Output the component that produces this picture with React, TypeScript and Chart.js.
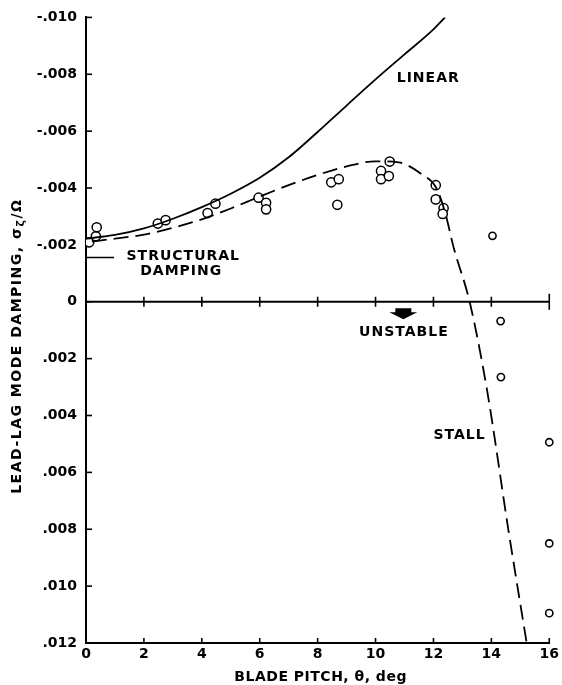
import React, { useEffect, useRef } from "react";
import { Chart, registerables } from "chart.js";

Chart.register(...registerables);

// ---- data ----
const pitchTickValues = [0, 2, 4, 6, 8, 10, 12, 14, 16];
const dampTickValues = [-0.01, -0.008, -0.006, -0.004, -0.002, 0, 0.002, 0.004, 0.006, 0.008, 0.01, 0.012];

const linearPitch = [0, 1, 2, 3, 4, 5, 6, 7, 8, 9, 10, 11, 12, 12.4];
const linearDamp = [-0.00222, -0.00235, -0.00258, -0.00292, -0.00333, -0.0038, -0.00436, -0.00508, -0.00597, -0.0069, -0.00782, -0.0087, -0.00958, -0.01];

const stallCurvePitch = [0.2, 1, 2, 3, 4, 5, 6, 7, 8, 9, 10, 10.8, 11.6, 12.1, 12.4, 12.7, 13.25, 13.85, 14.6, 15.22];
const stallCurveDamp = [-0.00212, -0.00222, -0.00236, -0.0026, -0.0029, -0.00328, -0.0037, -0.0041, -0.00446, -0.00476, -0.00494, -0.0049, -0.00448, -0.004, -0.00315, -0.0019, 0, 0.0031, 0.0081, 0.012];

const structPitch = [0, 0.97];
const structDamp = [-0.00156, -0.00156];

const testPitch = [0.11, 0.34, 0.37, 2.48, 2.75, 4.2, 4.47, 5.96, 6.22, 6.22, 8.47, 8.73, 8.68, 10.19, 10.19, 10.46, 10.49, 12.08, 12.08, 12.35, 12.32];
const testDamp = [-0.00209, -0.0023, -0.00262, -0.00275, -0.00287, -0.00312, -0.00345, -0.00366, -0.00348, -0.00325, -0.0042, -0.00431, -0.00341, -0.0046, -0.00431, -0.00442, -0.00493, -0.0041, -0.0036, -0.00329, -0.00309];

const stallTestPitch = [14.04, 14.32, 14.33, 16, 16, 16];
const stallTestDamp = [-0.00232, 0.00068, 0.00265, 0.00494, 0.0085, 0.01095];

// annotation labels (data coordinates)
const noteTexts = ["LINEAR", "STRUCTURAL", "DAMPING", "UNSTABLE", "STALL"];
const notePitch = [11.82, 3.36, 3.29, 10.98, 12.9];
const noteDamp = [-0.00786, -0.0016, -0.00107, 0.00109, 0.00471];
const arrowPitch = 10.96;
const arrowDamp = 0.0004;

const xTitle = "BLADE PITCH, θ, deg";
const yTitleMain = "LEAD-LAG MODE DAMPING, σ";
const yTitleSub = "ζ";
const yTitleEnd = "/Ω";

const FONT = "'DejaVu Sans', 'Liberation Sans', sans-serif";

const zip = (xs: number[], ys: number[]) => xs.map((x, i) => ({ x, y: ys[i] }));

const fmtDamp = (v: number) => {
  if (Math.abs(v) < 1e-9) return "0";
  const s = String(Math.round(Math.abs(v) * 1000)).padStart(3, "0");
  return (v < 0 ? "-" : "") + "." + s;
};

const decorPlugin = {
  id: "decor",
  beforeDatasetsDraw(chart: any) {
    const { ctx, chartArea } = chart;
    const xs = chart.scales.x;
    const ys = chart.scales.y;
    ctx.save();
    ctx.strokeStyle = "#000";
    ctx.lineCap = "butt";
    // zero axis
    const y0 = ys.getPixelForValue(0);
    ctx.lineWidth = 2;
    ctx.beginPath();
    ctx.moveTo(chartArea.left, y0);
    ctx.lineTo(xs.getPixelForValue(16), y0);
    ctx.stroke();
    ctx.lineWidth = 1.6;
    pitchTickValues.forEach((v) => {
      if (v === 0) return;
      const px = xs.getPixelForValue(v);
      const h = v === 16 ? 8 : 5;
      ctx.beginPath();
      ctx.moveTo(px, y0 - h);
      ctx.lineTo(px, y0 + h);
      ctx.stroke();
      // bottom axis ticks (inside)
      ctx.beginPath();
      ctx.moveTo(px, chartArea.bottom);
      ctx.lineTo(px, chartArea.bottom - 5);
      ctx.stroke();
    });
    dampTickValues.forEach((v) => {
      const py = ys.getPixelForValue(v);
      ctx.beginPath();
      ctx.moveTo(chartArea.left, py);
      ctx.lineTo(chartArea.left + 6, py);
      ctx.stroke();
    });
    ctx.restore();
  },
  afterDraw(chart: any) {
    const { ctx, chartArea } = chart;
    const xs = chart.scales.x;
    const ys = chart.scales.y;
    ctx.save();
    ctx.fillStyle = "#000";
    (ctx as any).letterSpacing = "1px";
    ctx.font = `bold 14px ${FONT}`;
    ctx.textAlign = "center";
    ctx.textBaseline = "middle";
    noteTexts.forEach((t, i) => {
      ctx.fillText(t, xs.getPixelForValue(notePitch[i]), ys.getPixelForValue(noteDamp[i]));
    });
    // arrow
    const ax = xs.getPixelForValue(arrowPitch);
    const ay = ys.getPixelForValue(arrowDamp);
    ctx.beginPath();
    ctx.moveTo(ax - 8, ay - 5);
    ctx.lineTo(ax + 8, ay - 5);
    ctx.lineTo(ax + 8, ay - 1);
    ctx.lineTo(ax + 14, ay - 1);
    ctx.lineTo(ax, ay + 6);
    ctx.lineTo(ax - 14, ay - 1);
    ctx.lineTo(ax - 8, ay - 1);
    ctx.closePath();
    ctx.fill();

    // x title
    ctx.font = `bold 14px ${FONT}`;
    (ctx as any).letterSpacing = "0.5px";
    ctx.fillText(xTitle, (chartArea.left + chartArea.right) / 2 + 3, 677);

    // y title rotated
    (ctx as any).letterSpacing = "1.5px";
    ctx.translate(17, (chartArea.top + chartArea.bottom) / 2 + 16);
    ctx.rotate(-Math.PI / 2);
    ctx.textAlign = "left";
    ctx.font = `bold 14px ${FONT}`;
    const w1 = ctx.measureText(yTitleMain).width;
    ctx.font = `bold 11px ${FONT}`;
    const w2 = ctx.measureText(yTitleSub).width;
    ctx.font = `bold 14px ${FONT}`;
    const w3 = ctx.measureText(yTitleEnd).width;
    let x = -(w1 + w2 + w3) / 2;
    ctx.fillText(yTitleMain, x, 0);
    x += w1;
    ctx.font = `bold 11px ${FONT}`;
    ctx.fillText(yTitleSub, x, 4);
    x += w2;
    ctx.font = `bold 14px ${FONT}`;
    ctx.fillText(yTitleEnd, x, 0);
    ctx.restore();
  },
};

export default function App() {
  const ref = useRef<HTMLCanvasElement | null>(null);
  useEffect(() => {
    if (!ref.current) return;
    const lineBase = { showLine: true, pointRadius: 0, borderColor: "#000", fill: false };
    const chart = new Chart(ref.current, {
      type: "scatter",
      data: {
        datasets: [
          { ...lineBase, label: "linear", data: zip(linearPitch, linearDamp), borderWidth: 1.8, cubicInterpolationMode: "monotone" } as any,
          { ...lineBase, label: "stall", data: zip(stallCurvePitch, stallCurveDamp), borderWidth: 1.8, borderDash: [15, 7], cubicInterpolationMode: "monotone" } as any,
          { ...lineBase, label: "structural", data: zip(structPitch, structDamp), borderWidth: 1.5 } as any,
          { label: "test", data: zip(testPitch, testDamp), pointRadius: 4.6, pointBackgroundColor: "#fff", pointBorderColor: "#000", pointBorderWidth: 1.5 },
          { label: "testdot", data: zip(testPitch, testDamp), pointRadius: 0.8, pointBackgroundColor: "#000", pointBorderColor: "#000", pointBorderWidth: 0 },
          { label: "stalltest", data: zip(stallTestPitch, stallTestDamp), pointRadius: 3.6, pointBackgroundColor: "#fff", pointBorderColor: "#000", pointBorderWidth: 1.6, clip: false } as any,
          { label: "stalldot", data: zip(stallTestPitch, stallTestDamp), pointRadius: 0.9, pointBackgroundColor: "#000", pointBorderColor: "#000", pointBorderWidth: 0, clip: false } as any,
        ],
      },
      options: {
        animation: false,
        responsive: false,
        events: [],
        layout: { padding: { left: 0, top: 15, right: 9, bottom: 0 } },
        plugins: { legend: { display: false }, tooltip: { enabled: false } },
        scales: {
          x: {
            type: "linear",
            min: 0,
            max: 16,
            grid: { display: false, drawTicks: false },
            border: { display: true, color: "#000", width: 2 },
            ticks: {
              stepSize: 2,
              padding: 3,
              color: "#000",
              font: { family: FONT, size: 14, weight: "bold" },
              callback: (v: any) => String(v),
            },
            afterFit: (s: any) => { s.height = 42; },
          },
          y: {
            type: "linear",
            reverse: true,
            min: -0.01,
            max: 0.012,
            grid: { display: false, drawTicks: false },
            border: { display: true, color: "#000", width: 2 },
            ticks: {
              stepSize: 0.002,
              padding: 9,
              color: "#000",
              font: { family: FONT, size: 14, weight: "bold" },
              callback: (v: any) => fmtDamp(Number(v)),
            },
            afterFit: (s: any) => { s.width = 86; },
          },
        },
      },
      plugins: [decorPlugin],
    });
    return () => chart.destroy();
  }, []);
  return (
    <div style={{ position: "absolute", left: 0, top: 0, width: 562, height: 685, background: "#fff" }}>
      <canvas ref={ref} width={562} height={685} style={{ display: "block" }} />
    </div>
  );
}
